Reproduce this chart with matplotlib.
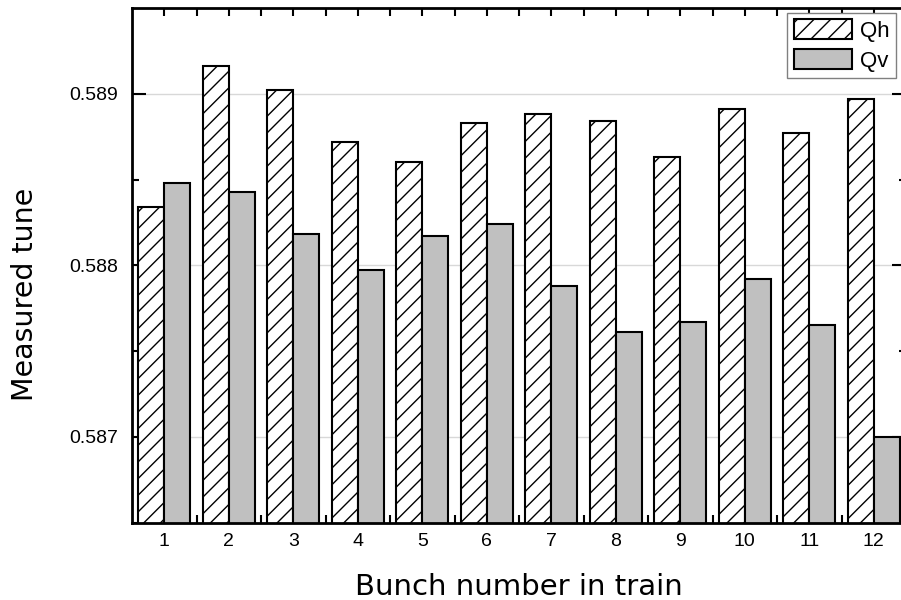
import numpy as np
import matplotlib
matplotlib.use("Agg")
import matplotlib.pyplot as plt

bunches = np.arange(1, 13)
qh = [0.58834, 0.58916, 0.58902, 0.58872, 0.58860, 0.58883,
      0.58888, 0.58884, 0.58863, 0.58891, 0.58877, 0.58897]
qv = [0.58848, 0.58843, 0.58818, 0.58797, 0.58817, 0.58824,
      0.58788, 0.58761, 0.58767, 0.58792, 0.58765, 0.58700]
yticks = [0.587, 0.588, 0.589]

plt.rcParams["hatch.linewidth"] = 1.0

fig = plt.figure(figsize=(9.01, 6.0), dpi=100)
# the right edge of the frame sits just past the picture, as in the original
ax = fig.add_axes([132 / 901, 1 - 522.7 / 600, 774 / 901, 514.7 / 600])

w = 0.4
ax.bar(bunches - w / 2, qh, width=w, bottom=0, facecolor="white",
       edgecolor="black", hatch="//", linewidth=1.5, label="Qh", zorder=2)
ax.bar(bunches + w / 2, qv, width=w, bottom=0, facecolor="#c0c0c0",
       edgecolor="black", linewidth=1.5, label="Qv", zorder=2)

ax.set_xlim(0.5, 12.5)
ax.set_ylim(0.5865, 0.5895)
ax.set_xticks(bunches)
ax.set_xticks(bunches + 0.5, minor=True)
ax.set_yticks(yticks)
ax.set_yticklabels([f"{t:.3f}" for t in yticks])
ax.set_yticks([0.5865, 0.5875, 0.5885], minor=True)
ax.yaxis.grid(True, color="#d8d8d8", linewidth=1, zorder=0)
ax.set_axisbelow(True)

ax.tick_params(which="both", direction="in", top=True, right=True,
               width=1.5, labelsize=14, labelfontfamily="Liberation Sans")
ax.tick_params(axis="y", which="major", length=10, pad=10)
ax.tick_params(axis="y", which="minor", length=5)
ax.tick_params(axis="x", which="both", length=6, pad=7.5)
for s in ax.spines.values():
    s.set_linewidth(2)

ax.set_xlabel("Bunch number in train", fontsize=21)
ax.xaxis.label.set_va("baseline")
ax.xaxis.set_label_coords(0.5, (522.7 - 595) / 514.7)
ax.set_ylabel("Measured tune", fontsize=20.5)
ax.yaxis.label.set_va("baseline")
ax.yaxis.set_label_coords((33 - 132) / 774, (522.7 - 294) / 514.7)

leg = ax.legend(loc="upper right", bbox_to_anchor=((896 - 132) / 774, 1 - 4.7 / 514.7),
                prop={"family": "Liberation Sans", "size": 16},
                fancybox=False, edgecolor="#808080", framealpha=1,
                handlelength=2.6, handleheight=0.95, handletextpad=0.35,
                labelspacing=0.35, borderpad=0.3, borderaxespad=0)
leg.get_frame().set_linewidth(1)

fig.savefig("out.png", dpi=100)
